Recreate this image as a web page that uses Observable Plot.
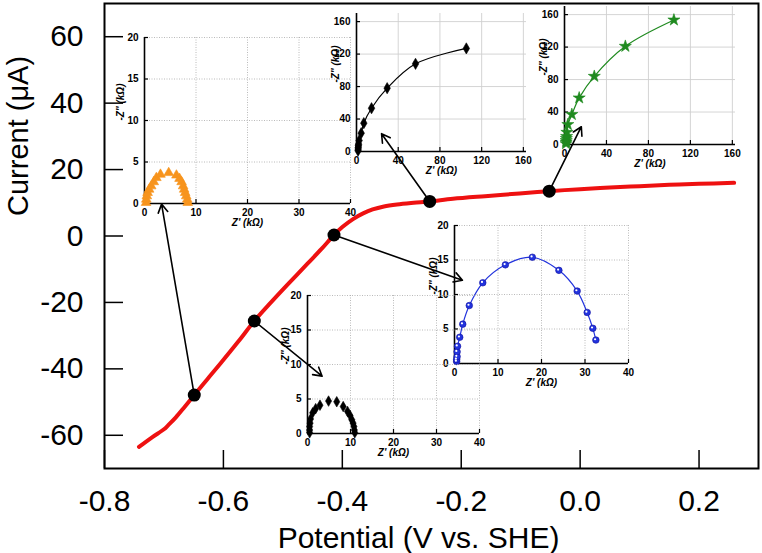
<!DOCTYPE html>
<html><head><meta charset="utf-8">
<script src="https://cdn.jsdelivr.net/npm/d3@7"></script>
<script src="https://cdn.jsdelivr.net/npm/@observablehq/plot@0.6"></script>
<style>
body{margin:0;background:#fff;}
#wrap{position:relative;width:762px;height:553px;overflow:hidden;}
#wrap > div{position:absolute;}
</style></head><body><div id="wrap"></div>
<script>
// ---------- main curve data ----------
const potential = [-0.742,-0.72,-0.70,-0.693,-0.68,-0.665,-0.649,-0.627,-0.605,-0.575,-0.548,-0.52,-0.493,-0.459,-0.435,-0.414,-0.40,-0.382,-0.365,-0.349,-0.33,-0.308,-0.28,-0.253,-0.214,-0.16,-0.102,-0.052,0.0,0.05,0.10,0.15,0.20,0.259];
const current = [-63.5,-60.6,-58.2,-57.0,-54.6,-51.4,-47.9,-43.1,-38.4,-31.8,-25.6,-20.0,-14.8,-8.4,-3.9,0.3,2.7,5.1,6.8,8.0,8.9,9.5,10.0,10.4,11.2,12.0,12.8,13.5,14.1,14.6,15.0,15.4,15.7,16.0];
const dotPotential = [-0.649,-0.548,-0.414,-0.253,-0.052];
const dotCurrent = [-47.9,-25.6,0.3,10.4,13.5];
const arrowTipPotential = [-0.704,-0.434,-0.198,-0.334,0.002];
const arrowTipCurrent = [9.6,-42.2,-13.3,30.8,32.9];
const xTicks = [-0.8,-0.6,-0.4,-0.2,0.0,0.2];
const yTicks = [-60,-40,-20,0,20,40,60];
const xTitle = "Potential (V vs. SHE)";
const yTitle = "Current (\u03bcA)";

// ---------- inset data (Z', -Z'' in kOhm) ----------
const orangeZre = [0.3,0.35,0.45,0.6,0.9,1.3,1.8,2.3,3.1,4.7,6.2,6.8,7.2,7.5,7.7,7.9,8.1,8.3,8.4];
const orangeZim = [0.1,0.5,0.9,1.3,1.7,2.1,2.6,3.1,3.5,3.7,3.4,3.0,2.6,2.1,1.7,1.3,0.9,0.5,0.1];
const blackTopZre = [1.5,1.6,1.7,1.8,2.0,2.5,4.5,7.0,14.4,29.4,56.6,105.3];
const blackTopZim = [1,3,5,7,9,13.5,22.6,34.9,53.3,78,108,127];
const greenZre = [1.5,1.6,1.7,1.8,2.0,2.3,3.2,7.0,14.0,28.4,58.0,104.3];
const greenZim = [1,3,5,7.5,10,15,24.6,37,57.4,84,121,153.4];
const blueZre = [0.5,0.5,0.6,0.6,0.7,1.2,1.9,3.4,6.5,11.7,17.9,24.0,28.2,30.5,31.8,32.5];
const blueZim = [0.3,0.6,1.0,1.7,2.5,3.8,5.7,8.4,11.7,14.3,15.4,13.5,10.5,7.4,5.1,3.4];
const blackLowZre = [0.5,0.5,0.5,0.6,0.7,1.2,1.9,2.9,4.9,6.8,8.3,9.3,9.9,10.3,10.6,10.8,10.9,11.0];
const blackLowZim = [0.1,0.5,1.0,1.5,2.1,3.0,3.6,4.1,4.7,4.6,3.9,3.2,2.6,2.0,1.5,1.0,0.5,0.1];
const smallTicksX = [0,10,20,30,40];
const smallTicksY = [0,5,10,15,20];
const bigTicks = [0,40,80,120,160];
const insetXTitle = "Z' (k\u03a9)";
const insetYTitle = "-Z'' (k\u03a9)";

const FONT = "'Liberation Sans', Arial, Helvetica, sans-serif";
const wrap = document.getElementById("wrap");

// ---------- main chart ----------
const W = 762, H = 553, mT = 3, mR = 4, mB = 85, mL = 104;
const plotW = W - mL - mR, plotH = H - mT - mB;
const curve = potential.map((x, i) => ({x, y: current[i]}));
const dots = dotPotential.map((x, i) => ({x, y: dotCurrent[i]}));
const arrows = dotPotential.map((x, i) => ({x1: x, y1: dotCurrent[i], x2: arrowTipPotential[i], y2: arrowTipCurrent[i]}));

const main = Plot.plot({
  width: W, height: H, marginTop: mT, marginRight: mR, marginBottom: mB, marginLeft: mL,
  x: {domain: [-0.8, 0.3]},
  y: {domain: [-70, 70]},
  style: {fontFamily: FONT, background: "white", color: "black"},
  marks: [
    Plot.axisX(xTicks, {tickSize: 0, tickPadding: 21, fontSize: 30, tickFormat: d => d.toFixed(1), label: null}),
    Plot.axisY(yTicks, {tickSize: 0, tickPadding: 21, fontSize: 30, tickFormat: d => String(d), label: null}),
    Plot.tickX(xTicks, {x: d => d, insetTop: plotH - 18, stroke: "black", strokeWidth: 1.5}),
    Plot.tickY(yTicks, {y: d => d, insetRight: plotW - 19, stroke: "black", strokeWidth: 1.5}),
    Plot.frame({stroke: "black", strokeWidth: 2}),
    Plot.line(curve, {x: "x", y: "y", stroke: "#ee1111", strokeWidth: 4, curve: "catmull-rom"}),
    Plot.arrow(arrows, {x1: "x1", y1: "y1", x2: "x2", y2: "y2", stroke: "black", strokeWidth: 1.6, headLength: 9}),
    Plot.dot(dots, {x: "x", y: "y", r: 6.5, fill: "black"}),
    Plot.text([xTitle], {text: d => d, frameAnchor: "bottom", lineAnchor: "middle", dx: -13, dy: 70, fontSize: 30}),
    Plot.text([yTitle], {text: d => d, frameAnchor: "left", lineAnchor: "middle", dx: -86, dy: -20, rotate: -90, fontSize: 29})
  ]
});
const mainDiv = document.createElement("div");
mainDiv.style.left = "0px"; mainDiv.style.top = "0px";
mainDiv.appendChild(main);
wrap.appendChild(mainDiv);

// ---------- insets ----------
function makeInset(cfg) {
  const iL = 44, iR = 14, iT = 10, iB = 34;
  const pw = cfg.right - cfg.left, ph = cfg.bottom - cfg.top;
  const data = cfg.zre.map((x, i) => ({x, y: cfg.zim[i]}));
  const gridStyle = cfg.dotted
    ? {stroke: "#a8a8a8", strokeOpacity: 1, strokeWidth: 0.8, strokeDasharray: "1,1.5"}
    : {stroke: "#cfcfcf", strokeOpacity: 1, strokeWidth: 0.9};
  const marks = [
    Plot.gridX(cfg.xTicks.filter(d => d > 0), gridStyle),
    Plot.gridY(cfg.yTicks.filter(d => d > 0), gridStyle),
    Plot.axisX(cfg.xTicks, {tickSize: 0, tickPadding: 5, fontSize: 10, fontWeight: "bold", label: null}),
    Plot.axisY(cfg.yTicks, {tickSize: 0, tickPadding: 6, fontSize: 10, fontWeight: "bold", label: null}),
    Plot.tickX(cfg.xTicks, {x: d => d, insetTop: ph - 4, stroke: "black", strokeWidth: 1.2}),
    Plot.tickY(cfg.yTicks, {y: d => d, insetRight: pw - 4, stroke: "black", strokeWidth: 1.2}),
    Plot.ruleX([cfg.xDomain[0]], {stroke: "black", strokeWidth: 1.6}),
    Plot.ruleY([cfg.yDomain[0]], {stroke: "black", strokeWidth: 1.6})
  ];
  if (cfg.line) marks.push(Plot.line(data, {x: "x", y: "y", stroke: cfg.color, strokeWidth: 1.2, curve: "catmull-rom"}));
  marks.push(Plot.dot(data, {x: "x", y: "y", symbol: cfg.symbol, r: cfg.r, fill: cfg.color, stroke: cfg.stroke || cfg.color, strokeWidth: 0.6}));
  if (cfg.highlight) marks.push(Plot.dot(data, {x: "x", y: "y", r: 1.1, fill: "white", dx: -0.8, dy: -0.8}));
  marks.push(Plot.text([insetXTitle], {text: d => d, frameAnchor: "bottom", dy: 22, fontSize: 10, fontWeight: "bold", fontStyle: "italic"}));
  marks.push(Plot.text([insetYTitle], {text: d => d, frameAnchor: "left", dx: -cfg.ydx, rotate: -90, fontSize: 10, fontWeight: "bold", fontStyle: "italic"}));
  const svg = Plot.plot({
    width: pw + iL + iR, height: ph + iT + iB,
    marginLeft: iL, marginRight: iR, marginTop: iT, marginBottom: iB,
    x: {domain: cfg.xDomain}, y: {domain: cfg.yDomain},
    style: {fontFamily: FONT, background: "transparent", overflow: "visible", color: "black"},
    marks
  });
  const div = document.createElement("div");
  div.style.left = (cfg.left - iL) + "px";
  div.style.top = (cfg.top - iT) + "px";
  div.appendChild(svg);
  wrap.appendChild(div);
}

makeInset({left: 144, right: 350, top: 37, bottom: 203, xDomain: [0, 40], yDomain: [0, 20], xTicks: smallTicksX, yTicks: smallTicksY,
  dotted: true, zre: orangeZre, zim: orangeZim, symbol: "triangle", r: 3.6, color: "#f7941d", line: false, ydx: 24});
makeInset({left: 356, right: 526, top: 13, bottom: 151, xDomain: [0, 163], yDomain: [0, 170], xTicks: bigTicks, yTicks: bigTicks,
  dotted: false, zre: blackTopZre, zim: blackTopZim, symbol: "diamond", r: 3.4, color: "black", line: true, ydx: 21});
makeInset({left: 564, right: 735, top: 6, bottom: 144, xDomain: [0, 163], yDomain: [0, 170], xTicks: bigTicks, yTicks: bigTicks,
  dotted: false, zre: greenZre, zim: greenZim, symbol: "star", r: 3.8, color: "#1f8a1f", line: true, ydx: 21});
makeInset({left: 454, right: 628, top: 225, bottom: 363, xDomain: [0, 40], yDomain: [0, 20], xTicks: smallTicksX, yTicks: smallTicksY,
  dotted: true, zre: blueZre, zim: blueZim, symbol: "circle", r: 3.3, color: "#2233dd", stroke: "#1010a0", line: true, highlight: true, ydx: 21});
makeInset({left: 307, right: 479, top: 295, bottom: 433, xDomain: [0, 40], yDomain: [0, 20], xTicks: smallTicksX, yTicks: smallTicksY,
  dotted: true, zre: blackLowZre, zim: blackLowZim, symbol: "diamond", r: 3.2, color: "black", line: false, ydx: 22});
</script></body></html>
